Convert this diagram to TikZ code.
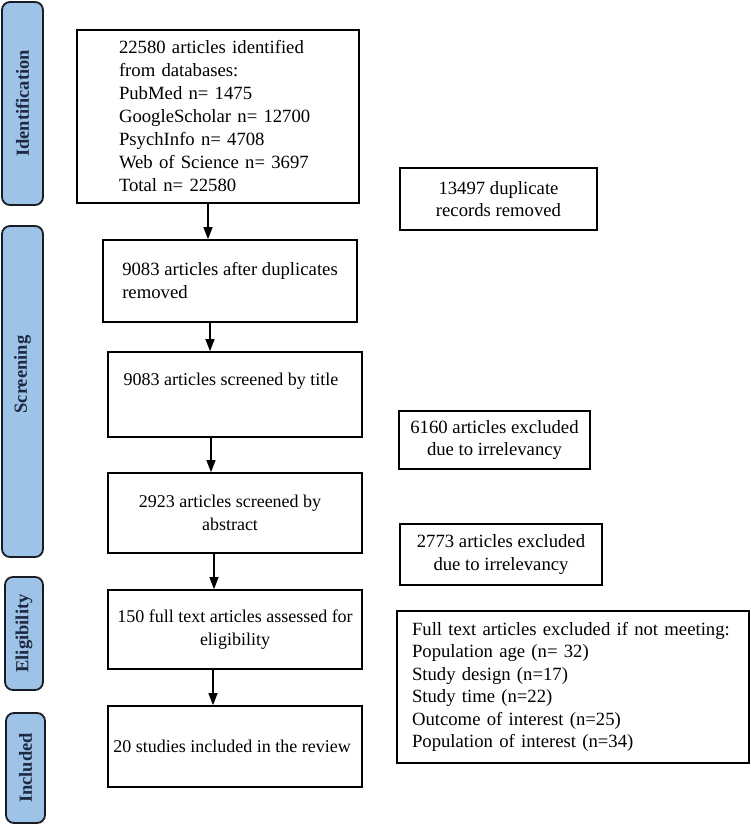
\documentclass[tikz,border=0pt]{standalone}
\usepackage{fontspec}
\setmainfont{Liberation Serif}
\usetikzlibrary{arrows.meta}
\definecolor{sidefill}{RGB}{157,195,230}
\definecolor{sidetext}{RGB}{30,40,66}
\definecolor{sideline}{RGB}{25,28,36}
\begin{document}
\begin{tikzpicture}[x=1pt,y=-1pt,
  mbox/.style={draw=black, line width=1.7pt, inner ysep=0pt, inner xsep=0pt,
    font=\fontsize{18}{23}\selectfont},
  bigbox/.style={mbox, font=\fontsize{18.7}{23}\selectfont},
  rbox/.style={mbox, font=\fontsize{18.7}{22.5}\selectfont},
  sidebox/.style={draw=sideline, fill=sidefill, line width=1.8pt, rounded corners=8pt, rotate=90,
    inner sep=0pt, text=sidetext, font=\fontsize{18.5}{22}\selectfont\bfseries},
  arr/.style={line width=1.1pt, -{Triangle[width=9pt,length=12pt]}}
]
\useasboundingbox (0,0) rectangle (751,825);

% side phase labels (minimum width = vertical extent on the page)
\node[sidebox, minimum width=203pt, minimum height=41pt] (sid) at (22.5,103.5) {Identification};
\node[sidebox, minimum width=331pt, minimum height=41pt] (ssc) at (22.5,391.5) {\hspace*{34pt}Screening};
\node[sidebox, minimum width=113pt, minimum height=38pt] (sel) at (24,633.5) {Eligibility};
\node[sidebox, minimum width=110pt, minimum height=39pt] (sin) at (25.5,768) {Included};

% main column
\node[bigbox, minimum width=282pt, minimum height=173pt, inner xsep=42pt, text width=198pt, align=left] (b1) at (218,116.5)
  {22580 articles identified\\from databases:\\PubMed n= 1475\\GoogleScholar n= 12700\\PsychInfo n= 4708\\Web of Science n= 3697\\Total n= 22580};
\node[bigbox, minimum width=254pt, minimum height=82pt, align=left] (b2) at (230,281)
  {9083 articles after duplicates\\removed};
\node[mbox, minimum width=254pt, minimum height=85pt, align=center] (b3) at (235,394.5)
  {\hspace*{-8pt}9083 articles screened by title\\\strut};
\node[mbox, minimum width=254pt, minimum height=80pt, align=center] (b4) at (235,513)
  {\hspace*{-10pt}2923 articles screened by\\\hspace*{-10pt}abstract};
\node[mbox, minimum width=254pt, minimum height=79pt, align=center] (b5) at (235,629.5)
  {150 full text articles assessed for\\eligibility};
\node[mbox, minimum width=254pt, minimum height=81pt, align=center] (b6) at (235,746.5)
  {\hspace*{-6pt}20 studies included in the review};

% right column
\node[rbox, minimum width=197pt, minimum height=62pt, align=center] (ra) at (498.5,199)
  {13497 duplicate\\records removed};
\node[rbox, minimum width=191pt, minimum height=58pt, align=center] (rb) at (494.5,440)
  {6160 articles excluded\\due to irrelevancy};
\node[rbox, minimum width=202pt, minimum height=61pt, align=center] (rc) at (501,554.5)
  {2773 articles excluded\\due to irrelevancy};
\node[rbox, minimum width=352pt, minimum height=152pt, inner xsep=15pt, text width=322pt, align=left] (rd) at (573,687)
  {Full text articles excluded if not meeting:\\Population age (n= 32)\\Study design (n=17)\\Study time (n=22)\\Outcome of interest (n=25)\\Population of interest (n=34)};

% arrows
\coordinate (a1) at (208,0);
\coordinate (a2) at (210,0);
\coordinate (a3) at (211,0);
\coordinate (a4) at (214,0);
\coordinate (a5) at (213,0);
\draw[arr] (b1.south -| a1) -- (b2.north -| a1);
\draw[arr] (b2.south -| a2) -- (b3.north -| a2);
\draw[arr] (b3.south -| a3) -- (b4.north -| a3);
\draw[arr] (b4.south -| a4) -- (b5.north -| a4);
\draw[arr] (b5.south -| a5) -- (b6.north -| a5);
\end{tikzpicture}
\end{document}
